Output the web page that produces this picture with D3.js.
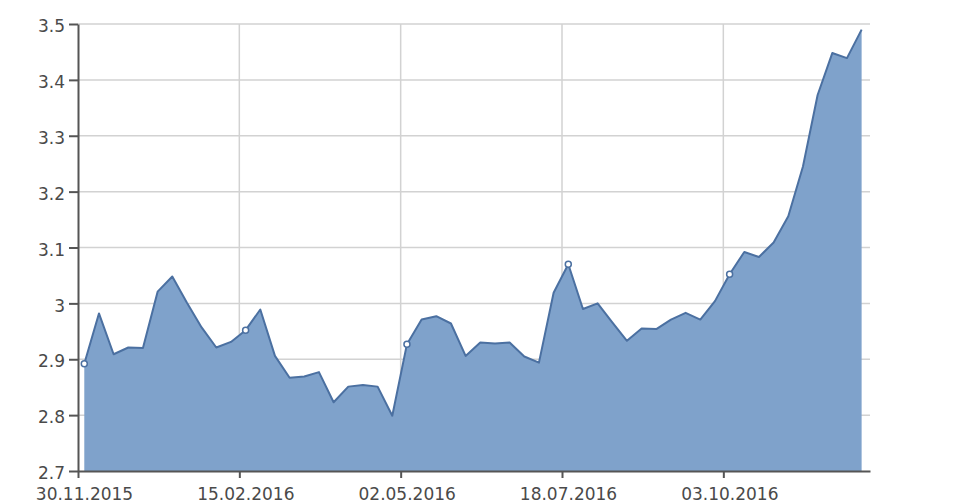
<!DOCTYPE html>
<html lang="en">
<head>
    <meta charset="UTF-8">
    <title>Weekly rate</title>
    <script src="https://d3js.org/d3.v7.min.js"></script>
    <style>
        body { margin: 0; background: #fff; }
        svg { display: block; }
        .axis text { font-family: "DejaVu Sans", sans-serif; font-size: 17px; fill: #4a4a4a; }
        .grid line { stroke: #d2d2d2; stroke-width: 1.5; }
    </style>
</head>
<body>
    <div id="chart"></div>

    <script>
        const dates = [
            "2015-12-03", "2015-12-10", "2015-12-17", "2015-12-24", "2015-12-31",
            "2016-01-07", "2016-01-14", "2016-01-21", "2016-01-28", "2016-02-04",
            "2016-02-11", "2016-02-18", "2016-02-25", "2016-03-03", "2016-03-10",
            "2016-03-17", "2016-03-24", "2016-03-31", "2016-04-07", "2016-04-14",
            "2016-04-21", "2016-04-28", "2016-05-05", "2016-05-12", "2016-05-19",
            "2016-05-26", "2016-06-02", "2016-06-09", "2016-06-16", "2016-06-23",
            "2016-06-30", "2016-07-07", "2016-07-14", "2016-07-21", "2016-07-28",
            "2016-08-04", "2016-08-11", "2016-08-18", "2016-08-25", "2016-09-01",
            "2016-09-08", "2016-09-15", "2016-09-22", "2016-09-29", "2016-10-06",
            "2016-10-13", "2016-10-20", "2016-10-27", "2016-11-03", "2016-11-10",
            "2016-11-17", "2016-11-24", "2016-12-01", "2016-12-08"
        ];
        const values = [
            2.892, 2.982, 2.909, 2.921, 2.920, 3.021, 3.048, 3.001, 2.957, 2.921,
            2.931, 2.952, 2.989, 2.906, 2.867, 2.869, 2.877, 2.823, 2.851, 2.854,
            2.851, 2.799, 2.927, 2.971, 2.977, 2.964, 2.906, 2.930, 2.928, 2.930,
            2.905, 2.894, 3.019, 3.070, 2.990, 3.000, 2.966, 2.933, 2.955, 2.954,
            2.971, 2.983, 2.971, 3.004, 3.052, 3.092, 3.083, 3.109, 3.156, 3.245,
            3.373, 3.448, 3.439, 3.490
        ];
        const markedIdx = [0, 11, 22, 33, 44];
        const xTickDates = ["2015-11-30", "2016-02-15", "2016-05-02", "2016-07-18", "2016-10-03"];
        const xTickLabels = ["30.11.2015", "15.02.2016", "02.05.2016", "18.07.2016", "03.10.2016"];
        const yTicks = [2.7, 2.8, 2.9, 3.0, 3.1, 3.2, 3.3, 3.4, 3.5];
        const yTickLabels = ["2.7", "2.8", "2.9", "3", "3.1", "3.2", "3.3", "3.4", "3.5"];
        const xDomain = ["2015-11-30", "2016-12-12"];

        // Configuration
        const width = 960, height = 504;
        const margin = { top: 24, right: 90, bottom: 33, left: 78 };
        const chartWidth = width - margin.left - margin.right;
        const chartHeight = height - margin.top - margin.bottom;
        const parseDate = d3.timeParse("%Y-%m-%d");
        const lineColor = "#4b70a1";

        const points = dates.map((d, i) => ({ date: parseDate(d), value: values[i] }));

        const svg = d3.select("#chart")
            .append("svg")
            .attr("width", width)
            .attr("height", height)
            .append("g")
            .attr("transform", `translate(${margin.left},${margin.top})`);

        const x = d3.scaleTime()
            .domain(xDomain.map(parseDate))
            .range([0, chartWidth]);

        const y = d3.scaleLinear()
            .domain([2.7, 3.5])
            .range([chartHeight, 0]);

        // grid
        const grid = svg.append("g").attr("class", "grid");
        grid.selectAll(".h")
            .data(yTicks.slice(1))
            .enter().append("line")
            .attr("x1", 0).attr("x2", chartWidth)
            .attr("y1", d => y(d)).attr("y2", d => y(d));
        grid.selectAll(".v")
            .data(xTickDates.slice(1))
            .enter().append("line")
            .attr("x1", d => x(parseDate(d))).attr("x2", d => x(parseDate(d)))
            .attr("y1", 0).attr("y2", chartHeight);

        // area + line
        const area = d3.area()
            .x(d => x(d.date))
            .y0(chartHeight)
            .y1(d => y(d.value));

        const line = d3.line()
            .x(d => x(d.date))
            .y(d => y(d.value));

        svg.append("path")
            .datum(points)
            .attr("d", area)
            .attr("fill", "#7fa2cb");

        svg.append("path")
            .datum(points)
            .attr("d", line)
            .attr("fill", "none")
            .attr("stroke", lineColor)
            .attr("stroke-width", 2)
            .attr("stroke-linejoin", "round");

        svg.selectAll(".marker")
            .data(markedIdx.map(i => points[i]))
            .enter().append("circle")
            .attr("cx", d => x(d.date))
            .attr("cy", d => y(d.value))
            .attr("r", 3)
            .attr("fill", "#fff")
            .attr("stroke", lineColor)
            .attr("stroke-width", 1.5);

        // axes
        const xAxis = svg.append("g")
            .attr("class", "axis")
            .attr("transform", `translate(0,${chartHeight})`)
            .call(d3.axisBottom(x)
                .tickValues(xTickDates.map(parseDate))
                .tickFormat((d, i) => xTickLabels[i])
                .tickSize(7)
                .tickSizeOuter(0));
        xAxis.selectAll("text").attr("dx", 6).attr("y", 17);

        const yAxis = svg.append("g")
            .attr("class", "axis")
            .call(d3.axisLeft(y)
                .tickValues(yTicks)
                .tickFormat((d, i) => yTickLabels[i])
                .tickSize(9)
                .tickSizeOuter(0));
        yAxis.selectAll("text").attr("x", -13).attr("dy", "0.45em");

        svg.selectAll(".axis path, .axis line")
            .attr("stroke", "#555")
            .attr("stroke-width", 2);
    </script>
</body>
</html>
